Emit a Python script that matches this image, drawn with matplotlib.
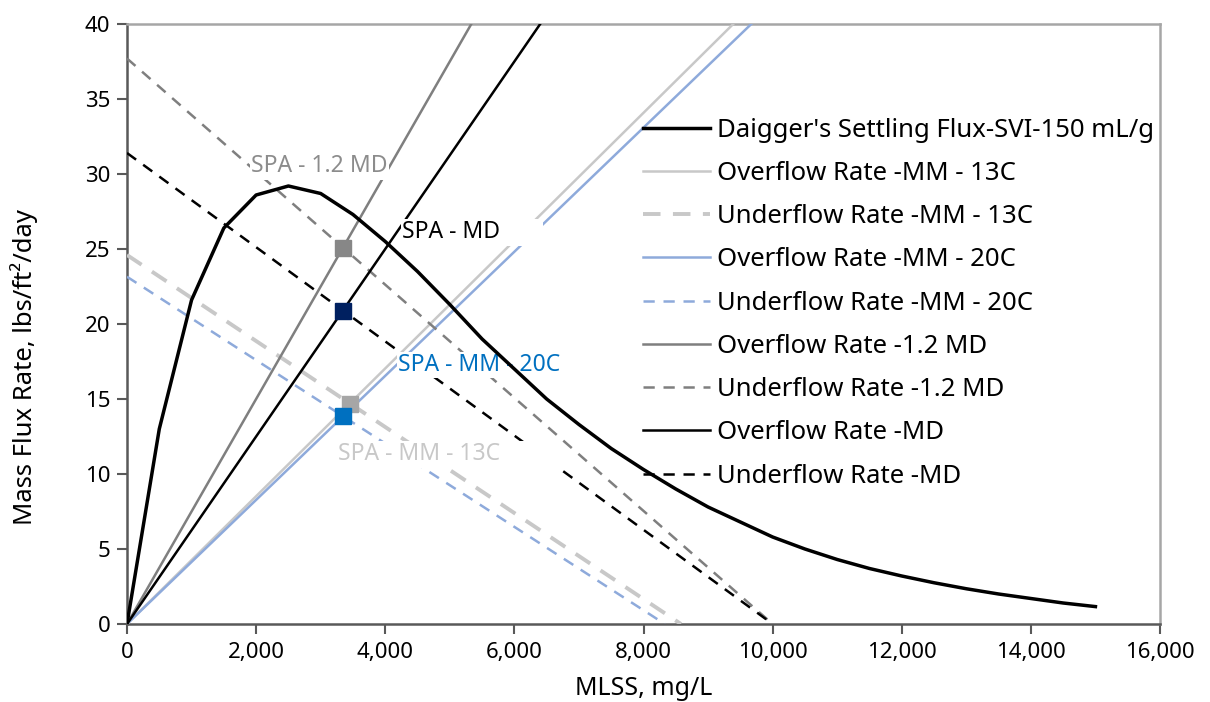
import matplotlib
matplotlib.use("Agg")
import matplotlib.pyplot as plt
from matplotlib.ticker import FuncFormatter

# Daigger settling flux curve, SVI 150 mL/g
mlss = [0, 500, 1000, 1500, 2000, 2500, 3000, 3500, 4000, 4500, 5000, 5500,
        6000, 6500, 7000, 7500, 8000, 8500, 9000, 9500, 10000, 10500, 11000,
        11500, 12000, 12500, 13000, 13500, 14000, 14500, 15000]
settling_flux = [0, 13.0, 21.6, 26.4, 28.6, 29.2, 28.7, 27.3, 25.5, 23.5, 21.3,
                 19.0, 17.0, 15.0, 13.3, 11.7, 10.3, 9.0, 7.8, 6.8, 5.8, 5.0,
                 4.3, 3.7, 3.2, 2.75, 2.35, 2.0, 1.7, 1.4, 1.16]

# Overflow (clarifier loading) lines: start and end points
ovf_mm13_x, ovf_mm13_y = [0, 9390], [0, 40]
ovf_mm20_x, ovf_mm20_y = [0, 9670], [0, 40]
ovf_12md_x, ovf_12md_y = [0, 5333], [0, 40]
ovf_md_x, ovf_md_y = [0, 6400], [0, 40]

# Underflow (RAS) lines: y-intercept to x-intercept
unf_mm13_x, unf_mm13_y = [0, 8580], [24.6, 0]
unf_mm20_x, unf_mm20_y = [0, 8330], [23.15, 0]
unf_12md_x, unf_12md_y = [0, 10000], [37.7, 0]
unf_md_x, unf_md_y = [0, 10000], [31.4, 0]

# State points
spa_names = ["SPA - MM - 13C", "SPA - MM - 20C", "SPA - 1.2 MD", "SPA - MD"]
spa_x = [3450, 3347, 3345, 3345]
spa_y = [14.7, 13.85, 25.1, 20.9]

x_ticks = list(range(0, 16001, 2000))
y_ticks = list(range(0, 41, 5))

FONT = ["Noto Sans", "DejaVu Sans"]
plt.rcParams["font.family"] = FONT

fig = plt.figure(figsize=(12.1, 7.02), dpi=100)
ax = fig.add_axes([127 / 1210, 78 / 702, 1033 / 1210, 600 / 702])

c_black = "#000000"
c_lgray = "#c8c8c8"
c_blue = "#8eaadb"
c_gray = "#7f7f7f"

lw = 1.8
ax.plot(mlss, settling_flux, color=c_black, lw=2.5, zorder=5,
        label="Daigger's Settling Flux-SVI-150 mL/g")
ax.plot(ovf_mm13_x, ovf_mm13_y, color=c_lgray, lw=lw, zorder=3,
        label="Overflow Rate -MM - 13C")
ax.plot(unf_mm13_x, unf_mm13_y, color=c_lgray, lw=2.8, zorder=3,
        linestyle=(0, (4.5, 3.2)), label="Underflow Rate -MM - 13C")
ax.plot(ovf_mm20_x, ovf_mm20_y, color=c_blue, lw=lw, zorder=3,
        label="Overflow Rate -MM - 20C")
ax.plot(unf_mm20_x, unf_mm20_y, color=c_blue, lw=lw, zorder=3,
        linestyle=(0, (4.5, 3.5)), label="Underflow Rate -MM - 20C")
ax.plot(ovf_12md_x, ovf_12md_y, color=c_gray, lw=lw, zorder=3,
        label="Overflow Rate -1.2 MD")
ax.plot(unf_12md_x, unf_12md_y, color=c_gray, lw=lw, zorder=3,
        linestyle=(0, (4.5, 3.5)), label="Underflow Rate -1.2 MD")
ax.plot(ovf_md_x, ovf_md_y, color=c_black, lw=lw, zorder=3,
        label="Overflow Rate -MD")
ax.plot(unf_md_x, unf_md_y, color=c_black, lw=lw, zorder=3,
        linestyle=(0, (4.5, 3.5)), label="Underflow Rate -MD")

# State point markers
spa_colors = ["#a6a6a6", "#0070c0", "#878787", "#002060"]
for xs, ys, col in zip(spa_x, spa_y, spa_colors):
    ax.plot([xs], [ys], marker="s", ms=12, color=col, mec=col, zorder=6,
            linestyle="none")

# State point labels (white boxes mask the lines behind them)
label_specs = [
    ("SPA - MM - 13C", 3265, 11.3, "#c8c8c8", "          "),
    ("SPA - MM - 20C", 4195, 17.25, "#0070c0", ""),
    ("SPA - 1.2 MD", 1920, 30.5, "#8c8c8c", ""),
    ("SPA - MD", 4255, 26.1, "#000000", "       "),
]
for text, lx, ly, col, pad in label_specs:
    ax.text(lx, ly, text + pad, color=col, fontsize=16.5, ha="left",
            va="center", zorder=4,
            bbox=dict(boxstyle="square,pad=0.05", fc="white", ec="none"))

ax.set_xlim(0, 16000)
ax.set_ylim(0, 40)
ax.set_xticks(x_ticks)
ax.set_yticks(y_ticks)
ax.xaxis.set_major_formatter(FuncFormatter(lambda v, p: f"{int(v):,}"))
ax.tick_params(axis="both", direction="out", length=7, width=1.5,
               color="#595959", labelsize=16, labelcolor="black")
ax.tick_params(axis="x", pad=6)
ax.tick_params(axis="y", pad=5)

for side in ["left", "bottom"]:
    ax.spines[side].set_color("#595959")
    ax.spines[side].set_linewidth(1.8)
for side in ["top", "right"]:
    ax.spines[side].set_color("#a6a6a6")
    ax.spines[side].set_linewidth(1.8)

ax.set_xlabel("MLSS, mg/L", fontsize=18)
ax.set_ylabel("Mass Flux Rate, lbs/ft\u00b2/day", fontsize=18.5)
ax.xaxis.set_label_coords(0.5, -0.087)
ax.yaxis.set_label_coords(-0.086, 0.428)

leg = ax.legend(loc="upper left", bbox_to_anchor=(0.4995, 0.844),
                fontsize=18.5, frameon=False, handlelength=2.6,
                handletextpad=0.27, labelspacing=0.71, borderpad=0.0,
                borderaxespad=0)
leg.set_zorder(4.5)

fig.savefig("out.png", dpi=100)
